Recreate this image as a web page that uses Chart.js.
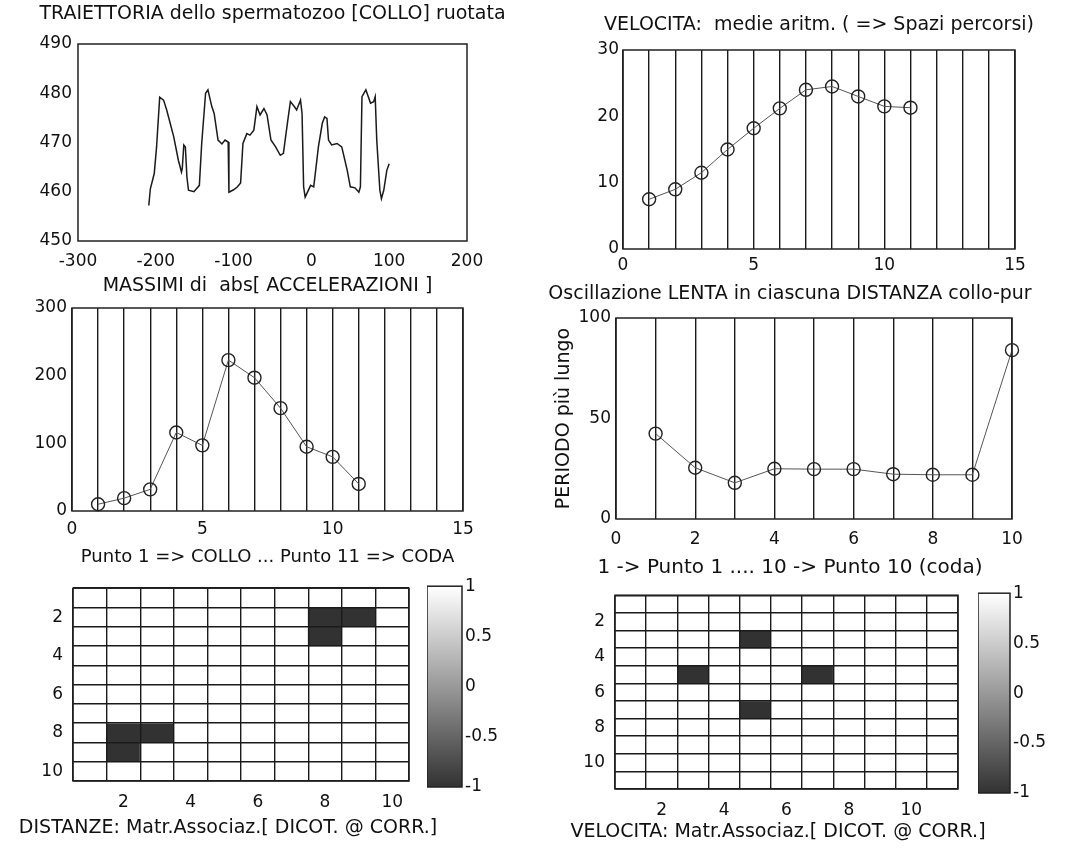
<!DOCTYPE html>
<html>
<head>
<meta charset="utf-8">
<script src="https://cdn.jsdelivr.net/npm/chart.js@4.4.1/dist/chart.umd.min.js"></script>
<style>
  html, body { margin: 0; padding: 0; background: #fff; overflow: hidden; }
  body { width: 1066px; height: 854px; position: relative; }
  .panel { position: absolute; }
</style>
</head>
<body>
<script>
// --- trajectory (top left)
const trajX = [-209, -207, -202, -199, -195, -190, -186, -177, -171, -167, -166, -164, -162, -160, -158,
  -151, -144, -141, -136, -133, -128, -125, -120, -115, -111, -107, -106, -100, -95, -91,
  -88, -83, -79, -74, -70, -66, -61, -57, -52, -46, -40, -36, -30, -27, -22,
  -19, -14, -12, -10, -8, -1, 3, 9, 14, 17, 20, 22, 26, 33, 39,
  46, 50, 56, 61, 63, 65, 70, 76, 80, 82, 84, 88, 90, 93, 97, 100];
const trajY = [457.2, 460.6, 463.7, 469.1, 479.2, 478.6, 476.6, 471.2, 466.4, 464, 464.7, 469.5, 469.1, 463, 460.3,
  460, 461.3, 469.8, 480, 480.7, 477.3, 475.9, 470.5, 469.7, 470.5, 470.1, 459.9, 460.4, 461, 461.8,
  469.8, 471.8, 471.5, 472.5, 477.3, 475.6, 476.9, 475.6, 470.5, 469.1, 467.4, 467.8, 474.9, 478.3, 477.3,
  476.6, 478.6, 475.9, 461, 458.9, 461.3, 461, 469.1, 473.9, 475.2, 474.9, 470.5, 469.5, 469.8, 469.1,
  464.4, 461, 460.8, 459.9, 461, 479.3, 480.7, 478, 478.3, 479.3, 470.5, 460.3, 458.6, 460.3, 464.4, 465.7];

// --- velocity means / acceleration maxima (points 1..11)
const points11 = [1, 2, 3, 4, 5, 6, 7, 8, 9, 10, 11];
const velMean = [7.5, 9, 11.5, 15, 18.2, 21.2, 24, 24.5, 23, 21.5, 21.3];
const accMax = [10, 19, 32, 116, 97, 223, 197, 152, 95, 80, 40];

// --- slow oscillation period (distances 1..10)
const points10 = [1, 2, 3, 4, 5, 6, 7, 8, 9, 10];
const periodLong = [42.5, 25.5, 18, 25, 24.8, 24.8, 22.3, 22, 22, 84];

// --- association matrices (1 = white, -1 = black)
const distMatrix = [
  [1, 1, 1, 1, 1, 1, 1, 1, 1, 1],
  [1, 1, 1, 1, 1, 1, 1, -1, -1, 1],
  [1, 1, 1, 1, 1, 1, 1, -1, 1, 1],
  [1, 1, 1, 1, 1, 1, 1, 1, 1, 1],
  [1, 1, 1, 1, 1, 1, 1, 1, 1, 1],
  [1, 1, 1, 1, 1, 1, 1, 1, 1, 1],
  [1, 1, 1, 1, 1, 1, 1, 1, 1, 1],
  [1, -1, -1, 1, 1, 1, 1, 1, 1, 1],
  [1, -1, 1, 1, 1, 1, 1, 1, 1, 1],
  [1, 1, 1, 1, 1, 1, 1, 1, 1, 1]
];
const velMatrix = [
  [1, 1, 1, 1, 1, 1, 1, 1, 1, 1, 1],
  [1, 1, 1, 1, 1, 1, 1, 1, 1, 1, 1],
  [1, 1, 1, 1, -1, 1, 1, 1, 1, 1, 1],
  [1, 1, 1, 1, 1, 1, 1, 1, 1, 1, 1],
  [1, 1, -1, 1, 1, 1, -1, 1, 1, 1, 1],
  [1, 1, 1, 1, 1, 1, 1, 1, 1, 1, 1],
  [1, 1, 1, 1, -1, 1, 1, 1, 1, 1, 1],
  [1, 1, 1, 1, 1, 1, 1, 1, 1, 1, 1],
  [1, 1, 1, 1, 1, 1, 1, 1, 1, 1, 1],
  [1, 1, 1, 1, 1, 1, 1, 1, 1, 1, 1],
  [1, 1, 1, 1, 1, 1, 1, 1, 1, 1, 1]
];
const cbarTicks = [-1, -0.5, 0, 0.5, 1];

Chart.defaults.font.family = "'DejaVu Sans', sans-serif";
Chart.defaults.font.size = 17;
Chart.defaults.color = '#111';
Chart.defaults.animation = false;
Chart.defaults.plugins.legend.display = false;
Chart.defaults.plugins.tooltip.enabled = false;

// box around every axes, like matlab
Chart.register({
  id: 'frame',
  afterDraw(chart) {
    const a = chart.chartArea, c = chart.ctx;
    c.save();
    c.strokeStyle = '#222';
    c.lineWidth = 1.5;
    c.strokeRect(a.left, a.top, a.right - a.left, a.bottom - a.top);
    c.restore();
  }
});

const LINE = '#1a1a1a';

function panel(L, T, R, B, m) {
  const d = document.createElement('div');
  d.className = 'panel';
  d.style.left = (L - m.l) + 'px';
  d.style.top = (T - m.t) + 'px';
  d.style.width = (R - L + m.l + m.r) + 'px';
  d.style.height = (B - T + m.t + m.b) + 'px';
  const c = document.createElement('canvas');
  d.appendChild(c);
  document.body.appendChild(d);
  return c;
}

function grayOf(v) {
  const g = Math.round(50 + (v + 1) / 2 * 205);
  return `rgb(${g},${g},${g})`;
}

function title(text, top, bottom) {
  return { display: true, text, font: { size: 19, weight: 'normal', lineHeight: 1 }, color: '#111', padding: { top, bottom } };
}
function xlabel(text, size, top, bottom) {
  return { display: true, position: 'bottom', text, font: { size, weight: 'normal', lineHeight: 1 }, color: '#111', padding: { top, bottom } };
}

// empty right axis, keeps the axes box centred in its canvas
function spacer(w) {
  return {
    type: 'linear', position: 'right', display: true,
    ticks: { display: false }, grid: { display: false, drawTicks: false }, border: { display: false },
    afterFit: s => { s.width = w; }
  };
}

function xLinear(min, max, step, every, pad, h, gridOn) {
  return {
    type: 'linear', min, max,
    ticks: { stepSize: step, maxTicksLimit: 100, autoSkip: false, maxRotation: 0, padding: pad,
      callback: v => (v % every === 0 ? v : '') },
    grid: { display: gridOn, color: LINE, lineWidth: 1.4, drawTicks: false },
    border: { display: false },
    afterFit: s => { s.height = h; }
  };
}
function yLinear(min, max, step, pad, w) {
  return {
    type: 'linear', min, max,
    ticks: { stepSize: step, padding: pad, callback: v => v },
    grid: { display: false, drawTicks: false },
    border: { display: false },
    afterFit: s => { s.width = w; }
  };
}

function lineSet(xs, ys) {
  return {
    data: xs.map((x, i) => ({ x, y: ys[i] })),
    showLine: true, borderColor: '#555', borderWidth: 1,
    pointRadius: 6.5, pointBorderColor: '#222', pointBorderWidth: 1.4,
    pointBackgroundColor: 'rgba(0,0,0,0)', clip: false
  };
}

// 1) TRAIETTORIA
{
  const m = { l: 78, r: 78, t: 44, b: 40 };
  new Chart(panel(78, 44, 467, 241, m), {
    type: 'scatter',
    data: { datasets: [{
      data: trajX.map((x, i) => ({ x, y: trajY[i] })),
      showLine: true, borderColor: '#1a1a1a', borderWidth: 1.5, pointRadius: 0
    }] },
    options: {
      responsive: true, maintainAspectRatio: false,
      plugins: { title: title('TRAIETTORIA dello spermatozoo [COLLO] ruotata', 4.5, 20.5) },
      scales: {
        x: xLinear(-300, 200, 100, 100, 10.8, 40, false),
        y: yLinear(450, 490, 10, 6, m.l),
        yr: spacer(m.r)
      }
    }
  });
}

// 2) VELOCITA medie
{
  const m = { l: 60, r: 60, t: 40, b: 40 };
  new Chart(panel(623, 50, 1015, 249, m), {
    type: 'scatter',
    data: { datasets: [lineSet(points11, velMean)] },
    options: {
      responsive: true, maintainAspectRatio: false,
      plugins: { title: title('VELOCITA:  medie aritm. ( => Spazi percorsi)', 5.5, 15.5) },
      scales: {
        x: xLinear(0, 15, 1, 5, 6.8, 40, true),
        y: yLinear(0, 30, 10, 4, m.l),
        yr: spacer(m.r)
      }
    }
  });
}

// 3) MASSIMI accelerazioni
{
  const m = { l: 72, r: 72, t: 40, b: 60 };
  new Chart(panel(72, 308, 463, 511, m), {
    type: 'scatter',
    data: { datasets: [lineSet(points11, accMax)] },
    options: {
      responsive: true, maintainAspectRatio: false,
      plugins: {
        title: title('MASSIMI di  abs[ ACCELERAZIONI ]', 8.5, 12.5),
        subtitle: xlabel('Punto 1 => COLLO ... Punto 11 => CODA', 18, 2, 5)
      },
      scales: {
        x: xLinear(0, 15, 1, 5, 8.8, 35, true),
        y: yLinear(0, 300, 100, 5, m.l),
        yr: spacer(m.r)
      }
    }
  });
}

// 4) Oscillazione LENTA
{
  const m = { l: 80, r: 32, t: 40, b: 60 };
  const y = yLinear(0, 100, 50, 5, m.l);
  y.title = { display: true, text: 'PERIODO più lungo', font: { size: 19 }, color: '#111', padding: { top: 16.6, bottom: 0 } };
  new Chart(panel(616, 318, 1012, 519, m), {
    type: 'scatter',
    data: { datasets: [lineSet(points10, periodLong)] },
    options: {
      responsive: true, maintainAspectRatio: false,
      plugins: {
        title: title('Oscillazione LENTA in ciascuna DISTANZA collo-pur', 6.5, 14.5),
        subtitle: xlabel('1 -> Punto 1 .... 10 -> Punto 10 (coda)', 20, 2, 1.5)
      },
      scales: {
        x: xLinear(0, 10, 1, 2, 10.8, 36.5, true),
        y,
        yr: spacer(m.r)
      }
    }
  });
}

// matrix image drawn as floating bars, one dataset per row
function heatmap(matrix, box, m, label, subPad, xh, tickPad) {
  const n = matrix.length;
  const cols = matrix[0].map((_, i) => String(i + 1));
  const rows = matrix.map((_, i) => i + 1);
  const gridOpts = { offset: true, color: LINE, lineWidth: 1.4, drawTicks: false, z: 1 };
  new Chart(panel(box[0], box[1], box[2], box[3], m), {
    type: 'bar',
    data: {
      labels: cols,
      datasets: matrix.map((row, r) => ({
        data: row.map(() => [r + 0.5, r + 1.5]),
        backgroundColor: row.map(grayOf),
        borderWidth: 0, barPercentage: 1, categoryPercentage: 1, grouped: false
      }))
    },
    options: {
      responsive: true, maintainAspectRatio: false,
      layout: { padding: { top: m.t } },
      plugins: { subtitle: xlabel(label, 19, subPad[0], subPad[1]) },
      scales: {
        x: {
          type: 'category', offset: true,
          ticks: { autoSkip: false, maxRotation: 0, padding: tickPad, callback: (v, i) => ((i + 1) % 2 === 0 ? i + 1 : '') },
          grid: gridOpts,
          border: { display: false },
          afterFit: s => { s.height = xh; }
        },
        y: {
          type: 'linear', reverse: true, min: 0.5, max: n + 0.5,
          afterBuildTicks: s => { s.ticks = rows.map(v => ({ value: v })); },
          ticks: { autoSkip: false, padding: 10, callback: v => (v % 2 === 0 ? v : '') },
          grid: gridOpts,
          border: { display: false },
          afterFit: s => { s.width = m.l; }
        },
        yr: spacer(m.r)
      }
    }
  });
}

function colorbar(box, m) {
  new Chart(panel(box[0], box[1], box[2], box[3], m), {
    type: 'bar',
    data: {
      labels: [''],
      datasets: [{
        data: [[-1, 1]],
        backgroundColor: c => {
          const a = c.chart.chartArea;
          if (!a) return '#888';
          const g = c.chart.ctx.createLinearGradient(0, a.bottom, 0, a.top);
          cbarTicks.forEach(v => g.addColorStop((v + 1) / 2, grayOf(v)));
          return g;
        },
        borderWidth: 0, barPercentage: 1, categoryPercentage: 1
      }]
    },
    options: {
      responsive: true, maintainAspectRatio: false,
      layout: { padding: { left: 0, right: 0, top: m.t, bottom: m.b } },
      scales: {
        x: { display: false },
        y: {
          position: 'right', min: -1, max: 1,
          afterBuildTicks: s => { s.ticks = cbarTicks.map(v => ({ value: v })); },
          ticks: { autoSkip: false, padding: 3, callback: v => String(v) },
          grid: { display: false, drawTicks: false },
          border: { display: false },
          afterFit: s => { s.width = m.r; }
        }
      }
    }
  });
}

// 5) DISTANZE matrix + colorbar
heatmap(distMatrix, [73, 578, 409, 781], { l: 73, r: 47, t: 10, b: 60 },
  'DISTANZE: Matr.Associaz.[ DICOT. @ CORR.]', [2, 3.5], 35.5, 11.8);
colorbar([427, 583, 462, 787], { l: 0, r: 52, t: 10, b: 15 });

// 6) VELOCITA matrix + colorbar
heatmap(velMatrix, [615, 585, 958, 789], { l: 55, r: 38, t: 10, b: 60 },
  'VELOCITA: Matr.Associaz.[ DICOT. @ CORR.]', [2, 7.5], 31.5, 11.8);
colorbar([978, 590, 1010, 793], { l: 0, r: 56, t: 10, b: 15 });
</script>
</body>
</html>
